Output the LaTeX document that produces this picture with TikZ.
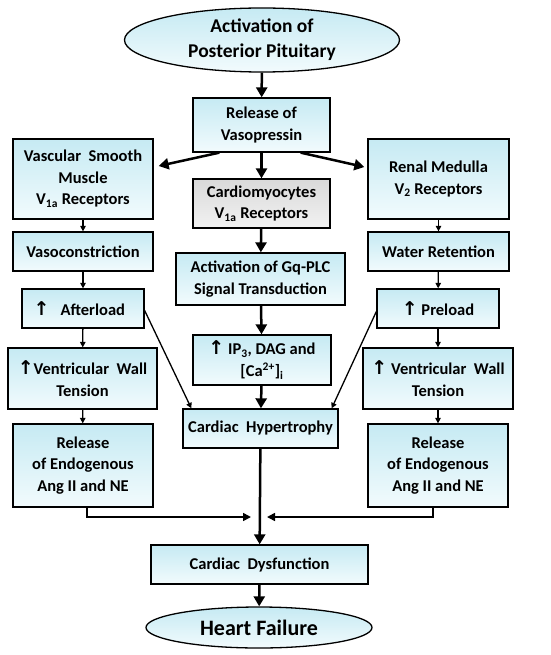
\documentclass[tikz,border=0pt]{standalone}
\usepackage{fontspec}
\setmainfont{Carlito}
\newfontfamily\arrowfont{DejaVu Sans}
\newcommand{\upmark}{{\arrowfont\fontsize{19}{21.5}\selectfont ↑}}
\usetikzlibrary{shapes.geometric, arrows.meta}

\begin{document}
\begin{tikzpicture}[x=1pt, y=-1pt,
    box/.style={draw=black, line width=1.3pt, top color=boxTop, bottom color=boxBottom,
        inner sep=0pt, align=center, font=\bfseries\fontsize{16.5}{21.5}\selectfont},
    greybox/.style={box, top color=greyTop, bottom color=greyBottom},
    oval/.style={box, ellipse},
    bigarrow/.style={line width=2.5pt, -{Triangle[length=10pt, width=11pt]}},
    midarrow/.style={line width=1.6pt, -{Triangle[length=8pt, width=8pt]}},
    smallarrow/.style={line width=1.3pt, -{Triangle[length=5.5pt, width=5.5pt]}}]
    % Define colours
    \definecolor{boxTop}{HTML}{C6EAF3}
    \definecolor{boxBottom}{HTML}{F2FBFD}
    \definecolor{greyTop}{HTML}{D9D9D9}
    \definecolor{greyBottom}{HTML}{F2F2F2}

    % Fix the page size
    \useasboundingbox (0,0) rectangle (550,655);

    % Top and central column
    \node[oval, minimum width=275, minimum height=64, font=\bfseries\fontsize{19.5}{25}\selectfont]
        (pituitary) at (262,40) {Activation of\\Posterior Pituitary};
    \node[box, minimum width=137, minimum height=54] (vasopressin) at (261.5,125) {Release of\\Vasopressin};
    \node[greybox, minimum width=137, minimum height=49] (cardio) at (261.5,203.5)
        {Cardiomyocytes\\V\textsubscript{1a} Receptors};
    \node[box, minimum width=169, minimum height=52] (gqplc) at (260.5,279)
        {Activation of Gq-PLC\\Signal Transduction};
    \node[box, minimum width=138, minimum height=50] (ipdag) at (262,360)
        {\upmark\ IP\textsubscript{3}, DAG and\\{}[Ca\textsuperscript{2+}]\textsubscript{i}};
    \node[box, minimum width=155, minimum height=39] (hypertrophy) at (260.5,428.5) {Cardiac\ \ Hypertrophy};
    \node[box, minimum width=217, minimum height=39] (dysfunction) at (259.5,564.5) {Cardiac\ \ Dysfunction};
    \node[oval, minimum width=226, minimum height=41, font=\bfseries\fontsize{22}{26}\selectfont]
        (failure) at (259,627.5) {Heart Failure};

    % Left column
    \node[box, minimum width=140, minimum height=80] (smooth) at (83,179)
        {Vascular\ \ Smooth\\Muscle\\V\textsubscript{1a} Receptors};
    \node[box, minimum width=140, minimum height=39] (constrict) at (83,251.5) {Vasoconstriction};
    \node[box, minimum width=122, minimum height=39] (afterload) at (83,308.5)
        {\upmark\ \ \ Afterload\ \ };
    \node[box, minimum width=149, minimum height=61] (tensionL) at (82.5,378.5)
        {\upmark Ventricular\ \ Wall\\Tension};
    \node[box, minimum width=140, minimum height=83] (endoL) at (83,465.5)
        {Release\\of Endogenous\\Ang II and NE};

    % Right column
    \node[box, minimum width=141, minimum height=80] (renal) at (438.5,179)
        {Renal Medulla\\V\textsubscript{2} Receptors};
    \node[box, minimum width=141, minimum height=39] (water) at (438.5,251.5) {Water Retention};
    \node[box, minimum width=122, minimum height=39] (preload) at (438,308.5)
        {\upmark\ Preload};
    \node[box, minimum width=150, minimum height=61] (tensionR) at (438,378.5)
        {\upmark\ Ventricular\ \ Wall\\Tension};
    \node[box, minimum width=140, minimum height=83] (endoR) at (438,465.5)
        {Release\\of Endogenous\\Ang II and NE};

    % Merge points above Cardiac Dysfunction
    \coordinate (mergeL) at (251,517);
    \coordinate (mergeR) at (267,517);

    % Central arrows
    \draw[bigarrow] (pituitary) -- (vasopressin);
    \draw[bigarrow] ([xshift=27]vasopressin.south west) -- ([shift={(5,-13)}]smooth.east);
    \draw[bigarrow] ([xshift=-30]vasopressin.south east) -- ([shift={(-3,-12)}]renal.west);
    \draw[bigarrow] (vasopressin) -- (cardio);
    \draw[bigarrow] (cardio) -- (gqplc);
    \draw[bigarrow] (gqplc) -- (ipdag);
    \draw[bigarrow] (ipdag) -- (hypertrophy);
    \draw[bigarrow] (hypertrophy) -- (dysfunction);
    \draw[bigarrow] (dysfunction) -- (failure);

    % Side arrows
    \foreach \a/\b in {smooth/constrict, constrict/afterload, afterload/tensionL, tensionL/endoL,
                       renal/water, water/preload, preload/tensionR, tensionR/endoR}
        \draw[smallarrow] (\a) -- (\b);
    \draw[smallarrow] ([yshift=-2]afterload.east) -- ([xshift=9]hypertrophy.north west);
    \draw[smallarrow] ([yshift=-3]preload.west) -- ([xshift=-7]hypertrophy.north east);

    % Merging arrows
    \draw[midarrow] ([xshift=4]endoL.south) |- (mergeL);
    \draw[midarrow] ([xshift=-5]endoR.south) |- (mergeR);

\end{tikzpicture}
\end{document}
